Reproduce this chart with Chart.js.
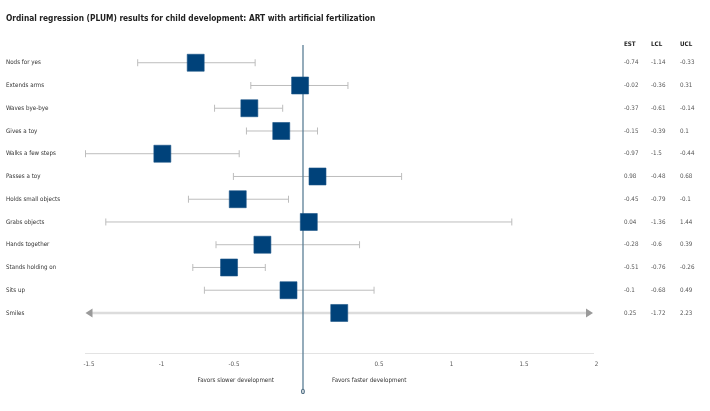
<!DOCTYPE html>
<html>
<head>
<meta charset="utf-8">
<script src="https://cdn.jsdelivr.net/npm/chart.js@4.4.1/dist/chart.umd.min.js"></script>
<style>
html,body{margin:0;padding:0;background:#fff;}
#wrap{width:710px;height:411px;position:relative;}
</style>
</head>
<body>
<div id="wrap"><canvas id="c"></canvas></div>
<script>
const titleText = 'Ordinal regression (PLUM) results for child development: ART with artificial fertilization';
const categories = ['Nods for yes','Extends arms','Waves bye-bye','Gives a toy','Walks a few steps','Passes a toy','Holds small objects','Grabs objects','Hands together','Stands holding on','Sits up','Smiles'];
const est = [-0.74,-0.02,-0.37,-0.15,-0.97,0.1,-0.45,0.04,-0.28,-0.51,-0.1,0.25];
const lcl = [-1.14,-0.36,-0.61,-0.39,-1.5,-0.48,-0.79,-1.36,-0.6,-0.76,-0.68,-1.72];
const ucl = [-0.33,0.31,-0.14,0.1,-0.44,0.68,-0.1,1.44,0.39,-0.26,0.49,2.23];
const tableEst = ['-0.74','-0.02','-0.37','-0.15','-0.97','0.98','-0.45','0.04','-0.28','-0.51','-0.1','0.25'];
const tableHeaders = ['EST','LCL','UCL'];
const xTicks = [-1.5,-1,-0.5,0.5,1,1.5,2];
const xMin = -1.5, xMax = 2;
const leftNote = 'Favors slower development';
const rightNote = 'Favors faster development';

const FONT = '"DejaVu Sans Condensed", "Noto Sans", sans-serif';

function fitSize(text, weight, target) {
  const c = document.createElement('canvas').getContext('2d');
  c.font = weight + ' 20px ' + FONT;
  return 20 * target / c.measureText(text).width;
}
const TITLE_SIZE = fitSize(titleText, 'bold', 370);
const SMALL_SIZE = fitSize('Walks a few steps', 'normal', 50);

const forest = {
  id: 'forest',
  beforeDatasetsDraw(chart) {
    const ctx = chart.ctx, xs = chart.scales.x, ys = chart.scales.y;
    const ca = chart.chartArea;
    ctx.save();
    for (let i = 0; i < categories.length; i++) {
      const y = ys.getPixelForValue(i);
      const lo = Math.max(lcl[i], xMin), hi = Math.min(ucl[i], xMax);
      const xl = xs.getPixelForValue(lo), xr = xs.getPixelForValue(hi);
      const overL = lcl[i] < xMin, overR = ucl[i] > xMax;
      if (overL || overR) {
        ctx.strokeStyle = '#dcdcdc';
        ctx.lineWidth = 2.5;
        ctx.beginPath();
        ctx.moveTo(xl + (overL ? 5 : 0), y);
        ctx.lineTo(xr - (overR ? 5 : 0), y);
        ctx.stroke();
        ctx.fillStyle = '#9a9a9a';
        if (overL) { ctx.beginPath(); ctx.moveTo(xl, y); ctx.lineTo(xl + 7, y - 4.5); ctx.lineTo(xl + 7, y + 4.5); ctx.closePath(); ctx.fill(); }
        else { ctx.strokeStyle='#bdbdbd'; ctx.lineWidth=1; ctx.beginPath(); ctx.moveTo(xl, y-3.5); ctx.lineTo(xl, y+3.5); ctx.stroke(); }
        if (overR) { ctx.beginPath(); ctx.moveTo(xr, y); ctx.lineTo(xr - 7, y - 4.5); ctx.lineTo(xr - 7, y + 4.5); ctx.closePath(); ctx.fill(); }
        else { ctx.strokeStyle='#bdbdbd'; ctx.lineWidth=1; ctx.beginPath(); ctx.moveTo(xr, y-3.5); ctx.lineTo(xr, y+3.5); ctx.stroke(); }
      } else {
        ctx.strokeStyle = '#bdbdbd';
        ctx.lineWidth = 1;
        ctx.beginPath();
        ctx.moveTo(xl, y); ctx.lineTo(xr, y);
        ctx.moveTo(xl, y - 3.5); ctx.lineTo(xl, y + 3.5);
        ctx.moveTo(xr, y - 3.5); ctx.lineTo(xr, y + 3.5);
        ctx.stroke();
      }
    }
    const x0 = xs.getPixelForValue(0);
    ctx.strokeStyle = '#5b7f96';
    ctx.lineWidth = 1.3;
    ctx.beginPath();
    ctx.moveTo(x0, ca.top);
    ctx.lineTo(x0, 389);
    ctx.stroke();
    ctx.restore();
  },
  afterDraw(chart) {
    const ctx = chart.ctx, xs = chart.scales.x, ys = chart.scales.y;
    ctx.save();
    ctx.fillStyle = '#222';
    ctx.font = 'bold ' + TITLE_SIZE + 'px ' + FONT;
    ctx.textBaseline = 'middle';
    ctx.textAlign = 'left';
    ctx.fillText(titleText, 6, 19);
    ctx.font = SMALL_SIZE + 'px ' + FONT;
    ctx.fillStyle = '#333';
    for (let i = 0; i < categories.length; i++) {
      ctx.fillText(categories[i], 6, ys.getPixelForValue(i));
    }
    const cols = [624, 651, 680];
    ctx.font = 'bold ' + SMALL_SIZE + 'px ' + FONT;
    ctx.fillStyle = '#222';
    tableHeaders.forEach((h, k) => ctx.fillText(h, cols[k], 44.5));
    ctx.font = SMALL_SIZE + 'px ' + FONT;
    ctx.fillStyle = '#555';
    for (let i = 0; i < categories.length; i++) {
      const y = ys.getPixelForValue(i);
      ctx.fillText(tableEst[i], cols[0], y);
      ctx.fillText(String(lcl[i]), cols[1], y);
      ctx.fillText(String(ucl[i]), cols[2], y);
    }
    const x0 = xs.getPixelForValue(0);
    ctx.fillStyle = '#333';
    ctx.textAlign = 'right';
    ctx.fillText(leftNote, x0 - 29, 380);
    ctx.textAlign = 'left';
    ctx.fillText(rightNote, x0 + 29, 380);
    ctx.textAlign = 'center';
    ctx.font = 'bold ' + (SMALL_SIZE + 0.8) + 'px ' + FONT;
    ctx.fillStyle = '#4c6b80';
    ctx.fillText('0', x0, 392);
    ctx.restore();
  }
};

new Chart(document.getElementById('c'), {
  type: 'scatter',
  data: {
    datasets: [{
      data: est.map((v, i) => ({ x: v, y: i })),
      pointStyle: 'rect',
      radius: 12,
      hoverRadius: 12,
      backgroundColor: '#00427a',
      borderColor: '#1a5486',
      borderWidth: 0.6
    }]
  },
  options: {
    responsive: true,
    maintainAspectRatio: false,
    animation: false,
    events: [],
    layout: { padding: { left: 85.5, right: 117, top: 45, bottom: 0 } },
    plugins: { legend: { display: false }, tooltip: { enabled: false }, title: { display: false } },
    scales: {
      x: {
        type: 'linear',
        min: xMin, max: xMax,
        afterBuildTicks(s) { s.ticks = xTicks.map(v => ({ value: v })); },
        afterFit(s) { s.height = 58; },
        grid: { display: false, drawTicks: false },
        border: { display: true, color: '#e3e3e3', width: 1 },
        ticks: {
          padding: 8,
          labelOffset: 3.5,
          color: '#555',
          font: { family: FONT, size: SMALL_SIZE },
          autoSkip: false,
          maxRotation: 0,
          callback: v => String(v)
        }
      },
      y: {
        type: 'linear',
        display: false,
        reverse: true,
        min: -0.78, max: 12.76
      }
    }
  },
  plugins: [forest]
});
</script>
</body>
</html>
